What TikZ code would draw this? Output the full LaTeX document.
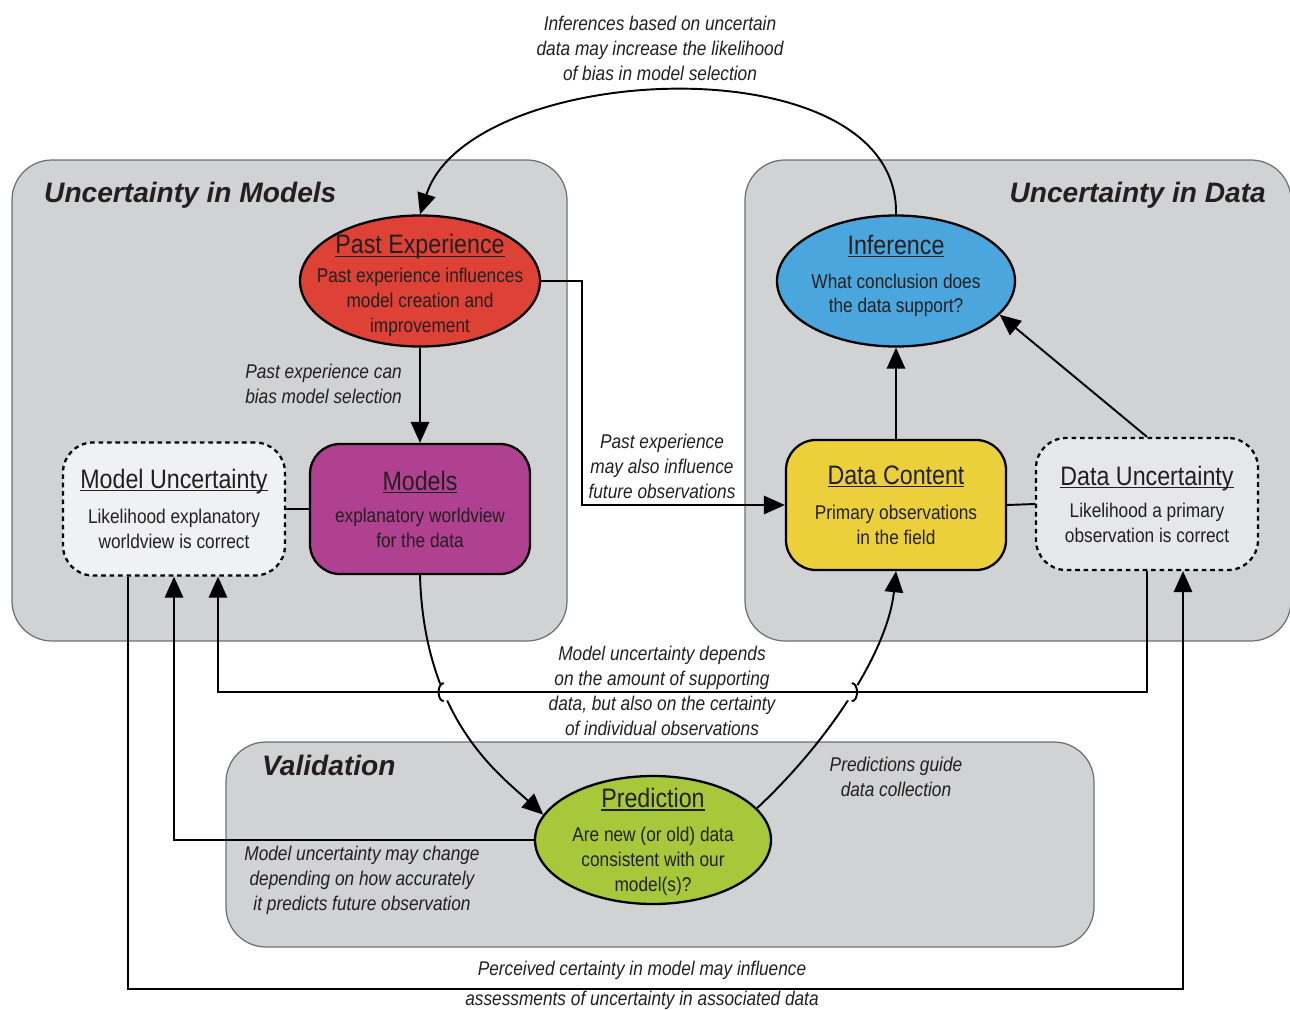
\documentclass[tikz,border=0pt]{standalone}
\usepackage{fontspec}
\setmainfont{Liberation Sans}
\newfontfamily\narrowsf[FakeStretch=0.87]{Liberation Sans}
\usepackage{xcolor}
\usepackage{tikz}
\usetikzlibrary{arrows.meta,shapes.geometric,intersections}

\definecolor{panelgray}{RGB}{209,210,212}
\definecolor{panelline}{RGB}{110,111,113}
\definecolor{pastred}{RGB}{222,66,54}
\definecolor{modelpurple}{RGB}{176,65,145}
\definecolor{infblue}{RGB}{74,166,220}
\definecolor{datayellow}{RGB}{236,208,59}
\definecolor{predgreen}{RGB}{166,200,58}
\definecolor{doubtwhite}{RGB}{240,241,243}
\definecolor{doubtgray}{RGB}{230,231,233}
\definecolor{inkgray}{RGB}{35,31,32}

% underlined heading inside a box
\newcommand{\boxtitle}[1]{{\fontsize{15.2pt}{16pt}\selectfont\setbox0=\hbox{#1}%
    \rlap{\rule[-1.7pt]{\wd0}{0.6pt}}\box0}}

\begin{document}
\begin{tikzpicture}[
    x=0.2mm, y=-0.2mm,
    every node/.style={text=inkgray},
    panel/.style={fill=panelgray, draw=panelline, line width=0.7pt, rounded corners=8mm},
    paneltitle/.style={font=\fontsize{16pt}{18pt}\selectfont\bfseries\itshape},
    concept/.style={draw=black, line width=1.3pt, align=center,
        font=\narrowsf\fontsize{11.3pt}{14.2pt}\selectfont},
    oval/.style={concept, ellipse, inner xsep=-6mm, inner ysep=-3mm},
    card/.style={concept, rectangle, inner sep=0pt, rounded corners=6mm,
        minimum width=44mm, minimum height=26mm},
    doubt/.style={card, dash pattern=on 2.6pt off 2.2pt},
    note/.style={align=center, font=\narrowsf\itshape\fontsize{11.3pt}{14.2pt}\selectfont},
    arrow/.style={-{Triangle[length=12pt, width=10.5pt]}, line width=1.1pt},
    link/.style={line width=1.1pt}
]
    \useasboundingbox (0,0) rectangle (1290,1010);

    % Panels
    \draw[panel] (12,160) rectangle (567,641);
    \draw[panel] (745,160) rectangle (1291,641);
    \draw[panel] (226,742) rectangle (1094,947);
    \node[paneltitle, anchor=west] (tmod) at (38,195) {Uncertainty in Models};
    \node[paneltitle, anchor=east] (tdat) at (1272,195) {Uncertainty in Data};
    \node[paneltitle, anchor=west] (tval) at (256,765) {Validation};

    % Concepts
    \node[oval, fill=pastred, minimum width=48mm, minimum height=26.2mm] (PE) at (420,281)
        {\boxtitle{Past Experience}\rule{0pt}{16pt}\\[2pt] Past experience influences\\ model creation and\\ improvement};
    \node[card, fill=modelpurple] (M) at (420,509)
        {\boxtitle{Models}\\[4pt] explanatory worldview\\ for the data};
    \node[doubt, fill=doubtwhite, minimum width=44.4mm, minimum height=26.6mm] (MU) at (174,509)
        {\boxtitle{Model Uncertainty}\\[6pt] Likelihood explanatory\\ worldview is correct};
    \node[oval, fill=infblue, minimum width=47.6mm, minimum height=26.2mm] (I) at (896,281)
        {\boxtitle{Inference}\\[5pt] What conclusion does\\ the data support?\rule[-8pt]{0pt}{8pt}};
    \node[card, fill=datayellow] (DC) at (896,505)
        {\boxtitle{Data Content}\\[6pt] Primary observations\\ in the field};
    \node[doubt, fill=doubtgray, minimum width=44.4mm, minimum height=26.4mm] (DU) at (1147,504)
        {\boxtitle{Data Uncertainty}\\[4pt] Likelihood a primary\\ observation is correct};
    \node[oval, fill=predgreen, minimum width=47.2mm, minimum height=25.6mm] (P) at (653,840)
        {\boxtitle{Prediction}\rule{0pt}{13pt}\\[5pt] Are new (or old) data\\ consistent with our\\ model(s)?};

    % Labels
    \node[note] (l1) at (660,48) {Inferences based on uncertain\\ data may increase the likelihood\\ of bias in model selection};
    \node[note, anchor=east, align=right] (l2) at (408,384) {Past experience can\\ bias model selection};
    \node[note] (l3) at (662,466) {Past experience\\ may also influence\\ future observations};
    \node[note] (l4) at (662,691) {Model uncertainty depends\\ on the amount of supporting\\ data, but also on the certainty\\ of individual observations};
    \node[note] (l5) at (896,777) {Predictions guide\\ data collection};
    \node[note] (l6) at (362,880) {Model uncertainty may change\\ depending on how accurately\\ it predicts future observation};
    \node[note] (l7) at (642,985) {Perceived certainty in model may influence\\[3pt] assessments of uncertainty in associated data};

    % Links
    \draw[arrow] (I.north) .. controls (900,40) and (470,60) .. (PE.north);
    \draw[arrow] (PE.south) -- (M.north);
    \draw[arrow] (PE.east) -- ++(41,0) |- (DC.west);
    \draw[arrow] (DC.north) -- (I.south);
    \draw[arrow] (DU.north) -- (I.-18);
    \draw[link] (MU.east) -- (M.west);
    \draw[link] (DC.east) -- (DU.west);
    \draw[arrow, name path=dline] (DU.south) -- ++(0,121) -| ([xshift=8.8mm]MU.south);
    \draw[arrow] (P.west) -| (MU.south);
    \draw[arrow] ([xshift=-9.2mm]MU.south) -- ++(0,412) -| ([xshift=7.2mm]DU.south);
    \draw[arrow, name path=mcurve] (M.south) .. controls (424,720) and (500,775) .. (P.167);
    \draw[arrow, name path=pcurve] (P.17) .. controls (830,740) and (888,650) .. (DC.south);

    % Hops
    \path[name intersections={of=mcurve and dline, by=xa}];
    \path[name intersections={of=pcurve and dline, by=xb}];
    \fill[white] (xa) circle[radius=1.8mm];
    \fill[white] (xb) circle[radius=1.8mm];
    \draw[link] ([xshift=-2.3mm]xa) -- ([xshift=2.3mm]xa);
    \draw[link] ([xshift=-2.3mm]xb) -- ([xshift=2.3mm]xb);
    \draw[link] ([yshift=1.8mm]xa) to[out=180, in=180] ([yshift=-1.8mm]xa);
    \draw[link] ([yshift=1.8mm]xb) to[out=0, in=0] ([yshift=-1.8mm]xb);
\end{tikzpicture}
\end{document}
